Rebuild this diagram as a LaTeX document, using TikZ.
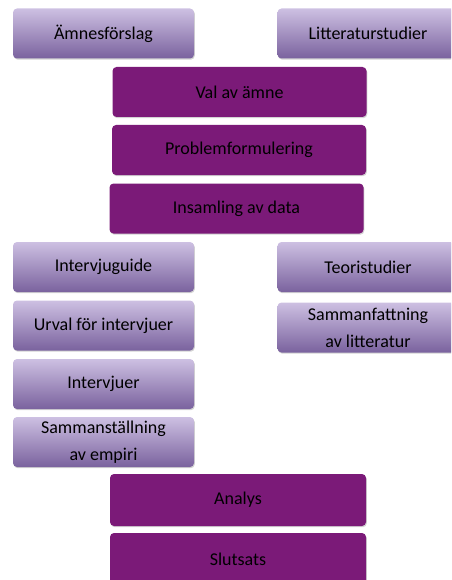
\documentclass[tikz,border=0pt]{standalone}
\usepackage{fontspec}
\setmainfont{Carlito}
\usetikzlibrary{shadows}
\definecolor{dark}{RGB}{123,26,120}
\definecolor{ltop}{RGB}{205,192,226}
\definecolor{lbot}{RGB}{122,98,158}
\tikzset{
  base/.style={rounded corners=4pt, inner sep=0pt, align=center,
    font=\fontsize{18}{27}\selectfont,
    drop shadow={shadow xshift=0.8pt, shadow yshift=-1.2pt, opacity=0.35}},
  darkbox/.style={base, fill=dark, text=black, minimum width=254pt, minimum height=50pt},
  lightbox/.style={base, top color=ltop, bottom color=lbot, text=black, minimum width=181pt, minimum height=50pt},
}
\begin{document}
\begin{tikzpicture}[x=1pt,y=-1pt]
\useasboundingbox (0,0) rectangle (451,580);
\clip (0,0) rectangle (451,580);
\node[lightbox] (amne) at (103.5,33.5) {Ämnesförslag};
\node[lightbox] (litt) at (368,33.5) {Litteraturstudier};
\node[darkbox] (val) at (239.5,92) {Val av ämne};
\node[darkbox] (prob) at (239,150) {Problemformulering};
\node[darkbox] (insam) at (236.5,208.5) {Insamling av data};
\node[lightbox] (guide) at (103.5,267) {Intervjuguide};
\node[lightbox] (teori) at (368,267) {Teoristudier};
\node[lightbox] (urval) at (103.5,325.5) {Urval för intervjuer};
\node[lightbox] (samf) at (368,327.5) {Sammanfattning\\av litteratur};
\node[lightbox] (interv) at (103.5,384) {Intervjuer};
\node[lightbox] (samst) at (103.5,442) {Sammanställning\\av empiri};
\node[darkbox, minimum width=256pt, minimum height=52pt] (analys) at (238,500) {Analys};
\node[darkbox, minimum width=256pt, minimum height=52pt] (slut) at (238,559) {Slutsats};
\end{tikzpicture}
\end{document}
